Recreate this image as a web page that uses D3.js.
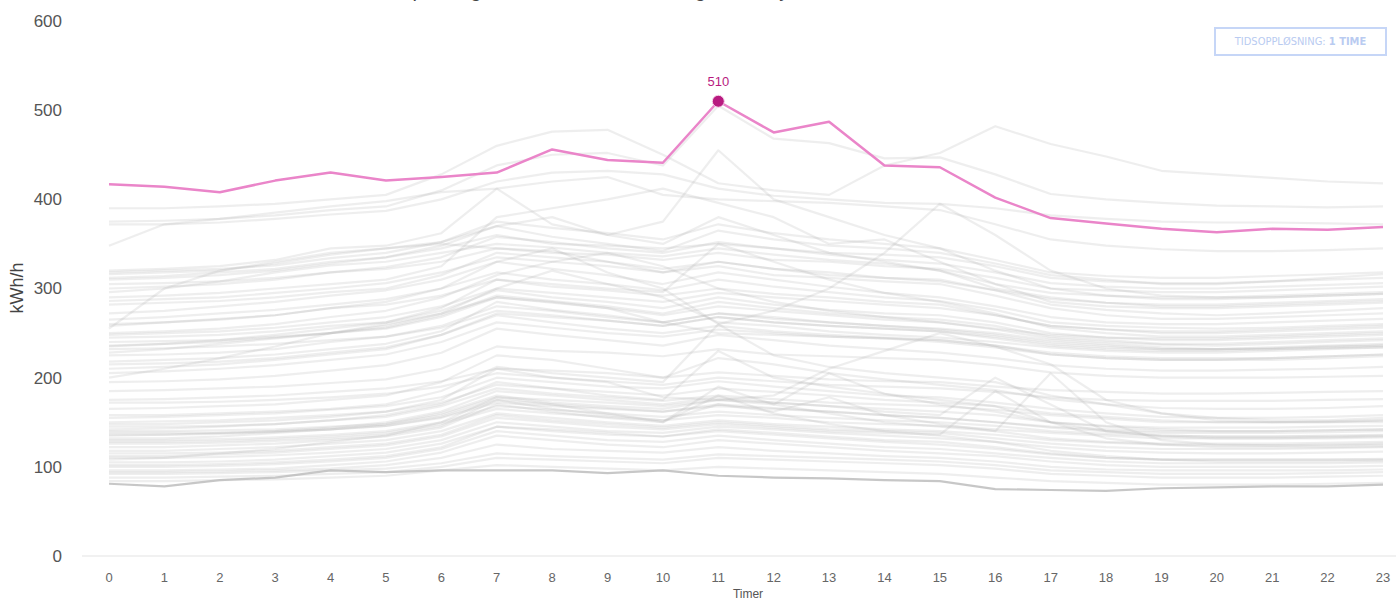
<!DOCTYPE html>
<html><head><meta charset="utf-8">
<script src="https://cdn.jsdelivr.net/npm/d3@7"></script>
<style>
html,body{margin:0;padding:0;background:#fff;}
svg{display:block;font-family:"Liberation Sans",Arial,sans-serif;}
</style></head>
<body>
<svg id="chart" width="1396" height="601"></svg>
<script>
const hours = [0,1,2,3,4,5,6,7,8,9,10,11,12,13,14,15,16,17,18,19,20,21,22,23];
const yTicks = [0,100,200,300,400,500,600];
const titleText = "Forbruk per døgn i hele tidsrommet – dag med høyest forbruk";
const yLabel = "kWh/h";
const xLabel = "Timer";
const buttonLabel = "TIDSOPPLØSNING: ";
const buttonValue = "1 TIME";

// highlighted day (maximum)
const maxDay = [417,414,408,421,430,421,425,430,456,444,441,510,475,487,438,436,402,379,373,367,363,367,366,369];
// lowest day
const minDay = [81,78,85,88,96,94,96,96,96,93,96,90,88,87,85,84,75,74,73,76,77,78,78,80];

// other days
const otherDays = [
[390,390,392,395,400,405,428,460,476,478,450,418,410,405,438,452,482,462,448,432,428,424,420,418],
[375,376,378,382,388,392,410,438,450,452,438,505,468,463,446,447,428,406,400,396,393,392,391,392],
[372,372,374,378,383,387,400,420,430,432,428,412,404,400,396,395,390,382,378,375,374,374,373,372],
[348,372,378,385,392,398,408,412,420,425,405,400,398,396,392,388,372,355,348,344,342,342,343,345],
[320,322,325,332,345,348,362,412,372,360,350,380,360,340,330,320,300,290,284,280,280,282,284,286],
[316,318,320,328,338,345,352,370,358,350,342,365,355,348,345,340,328,315,310,305,305,308,310,312],
[312,314,318,322,330,335,345,360,350,348,345,350,345,340,338,335,325,312,308,306,306,308,312,316],
[318,320,322,326,334,340,352,375,368,362,355,372,362,355,350,345,332,318,314,312,312,314,316,318],
[305,306,308,312,318,324,335,358,352,345,340,352,345,338,332,328,318,306,302,300,300,302,304,306],
[300,302,305,310,318,322,330,345,340,338,332,340,332,330,325,322,312,300,298,296,296,298,300,302],
[296,300,308,318,326,330,340,350,346,340,336,345,338,332,328,320,305,295,292,290,290,292,294,296],
[290,292,295,300,305,310,325,380,390,400,412,396,380,350,355,330,305,285,280,278,278,280,282,284],
[310,312,315,320,328,335,348,370,380,360,375,455,400,380,360,345,320,300,292,288,288,290,292,294],
[286,288,290,295,300,306,318,335,330,325,318,330,322,315,312,308,298,288,284,282,282,284,286,288],
[282,284,286,290,296,300,315,340,335,330,322,330,322,318,312,310,298,282,276,272,270,272,275,278],
[272,275,280,285,292,298,310,330,322,315,305,318,310,302,295,290,280,268,262,260,260,262,264,266],
[265,268,272,276,282,288,300,318,310,305,298,310,302,296,290,286,276,262,258,256,255,256,258,260],
[258,262,266,270,278,282,292,310,302,298,292,300,294,290,285,282,270,258,254,250,250,252,254,256],
[255,300,320,330,340,345,350,345,342,330,318,325,315,312,308,305,292,278,270,266,266,268,270,272],
[260,262,265,270,278,285,300,330,345,318,300,260,275,300,340,395,360,320,300,292,290,290,292,294],
[250,252,255,260,268,275,290,315,330,340,325,300,285,275,268,262,255,248,245,244,244,246,248,250],
[248,250,252,256,262,268,280,300,295,290,285,295,290,286,282,278,270,258,254,252,252,254,256,258],
[245,246,248,252,258,262,275,298,290,285,278,290,282,276,272,270,262,250,245,242,242,244,246,248],
[240,241,242,246,250,255,268,290,284,278,270,280,275,270,265,262,254,244,240,237,236,238,240,242],
[236,238,240,245,250,256,270,292,286,280,272,285,278,272,268,265,258,246,242,238,238,240,242,244],
[235,238,242,248,255,262,278,310,305,300,296,350,330,310,295,285,272,256,250,246,246,248,250,252],
[232,233,235,238,242,246,256,275,270,264,258,268,262,258,255,252,244,236,232,230,230,232,234,236],
[228,232,238,244,250,258,272,300,320,305,290,262,258,252,248,245,240,234,230,228,228,230,232,234],
[225,226,228,232,240,246,258,280,275,268,262,272,266,262,258,254,248,240,236,232,232,234,236,238],
[218,220,222,226,232,238,252,285,276,270,262,250,248,246,244,240,234,226,222,220,220,222,224,226],
[215,216,218,222,228,234,248,272,268,264,258,268,262,258,255,252,246,238,234,232,232,233,235,236],
[210,212,215,220,226,232,248,270,262,255,250,258,252,248,245,242,236,228,224,222,222,222,224,226],
[205,207,210,214,220,226,240,262,256,250,246,254,250,246,244,242,236,226,222,220,220,220,222,224],
[200,210,222,235,250,260,272,290,285,278,262,272,268,262,258,255,250,242,238,234,232,232,233,234],
[195,196,198,202,208,214,228,255,248,242,236,248,242,236,232,228,222,214,210,208,208,209,210,212],
[185,186,188,190,194,198,210,235,230,228,224,232,226,224,222,220,214,206,202,200,200,200,201,202],
[175,176,178,180,184,188,196,210,208,205,200,206,202,198,196,195,190,186,184,182,182,183,184,185],
[172,172,173,175,178,182,190,205,200,196,192,200,196,192,190,188,184,178,175,174,174,174,175,176],
[165,166,168,170,175,180,195,225,220,210,200,222,215,205,198,192,186,176,170,166,165,165,166,168],
[158,158,160,162,165,170,185,212,205,200,195,260,225,212,205,200,195,180,170,160,155,152,152,155],
[155,156,158,160,164,168,178,200,195,190,188,196,190,185,180,178,172,165,160,156,155,155,156,158],
[150,151,152,155,158,162,172,192,188,184,180,188,184,180,175,172,168,160,156,152,150,150,151,152],
[148,148,150,152,156,162,175,210,200,195,178,175,180,210,230,250,235,215,175,160,152,150,150,152],
[145,145,146,148,152,156,168,188,182,178,174,180,176,172,170,168,164,158,154,150,150,150,150,150],
[142,143,145,148,152,158,170,195,188,180,175,230,200,190,182,175,168,150,145,142,140,140,141,142],
[140,140,141,142,145,148,158,178,175,172,168,175,172,168,165,162,158,150,146,144,144,144,145,146],
[138,138,138,140,142,146,155,172,168,165,162,168,165,162,158,155,150,145,142,140,140,140,141,142],
[136,136,137,139,142,146,156,175,170,166,162,170,166,162,158,155,150,144,140,138,138,138,139,140],
[135,136,138,140,144,150,162,185,180,175,170,178,172,168,162,158,200,170,140,135,134,134,135,136],
[132,132,134,138,142,148,160,180,172,168,165,175,170,205,182,170,162,150,140,134,132,132,133,134],
[130,130,131,133,136,140,150,168,164,160,156,162,158,155,152,150,146,140,137,135,134,134,134,135],
[128,128,129,131,134,138,148,165,160,156,152,158,155,150,148,146,142,138,135,132,132,132,132,133],
[126,126,127,129,132,136,146,175,165,158,152,170,162,178,158,148,140,132,128,126,126,126,127,128],
[122,122,124,126,130,134,144,170,162,155,150,190,170,160,150,145,140,205,150,130,125,124,124,125],
[118,118,120,122,126,130,140,160,155,150,146,152,148,145,142,140,136,130,127,125,124,124,125,126],
[115,115,116,118,122,126,136,158,152,148,144,150,146,142,140,138,132,126,122,120,120,120,121,122],
[112,112,114,116,120,124,134,155,150,145,142,148,144,140,138,136,185,150,132,125,122,122,122,123],
[110,110,111,113,116,120,130,150,145,140,138,145,142,138,135,132,128,122,118,116,115,115,116,117],
[108,110,115,120,128,135,150,178,170,160,150,180,160,148,140,135,128,118,112,108,106,106,106,107],
[105,105,106,108,112,116,126,145,140,136,134,140,136,132,128,125,120,114,110,108,108,108,108,108],
[102,102,103,105,108,112,122,145,142,138,134,142,138,134,130,128,122,115,110,108,108,108,108,109],
[100,100,101,103,106,110,120,140,135,130,128,135,130,126,122,120,115,110,106,104,104,104,104,105],
[96,96,97,98,102,106,116,135,130,125,122,130,126,122,118,115,112,106,102,100,100,100,100,101],
[94,94,95,96,98,102,110,125,120,118,116,122,118,115,112,110,106,100,97,96,96,96,96,97],
[92,92,93,94,96,98,104,115,112,110,108,114,112,110,108,106,102,96,94,92,92,92,93,94],
[88,88,89,90,92,94,100,110,108,106,104,110,108,106,104,102,98,92,90,88,88,88,89,90],
[84,84,85,86,88,90,96,102,100,98,96,100,98,96,94,92,88,84,82,80,80,80,81,82]
];

const svg = d3.select("#chart");
const x = d3.scaleLinear().domain([0,23]).range([109,1383]);
const y = d3.scaleLinear().domain([0,600]).range([556,21]);

// title (mostly above the visible area)
svg.append("text").attr("x",338).attr("y",-3).attr("font-size",20).attr("fill","#444")
  .text(titleText);

// x axis baseline
svg.append("line").attr("x1",82).attr("x2",1396).attr("y1",y(0)).attr("y2",y(0))
  .attr("stroke","#e3e3e3").attr("stroke-width",1);

// y tick labels
svg.append("g").selectAll("text").data(yTicks).join("text")
  .attr("x",62).attr("y",d=>y(d)).attr("dy","0.35em").attr("text-anchor","end")
  .attr("font-size",17).attr("fill","#555").text(d=>d);

// y label
svg.append("text").attr("transform","translate(23,288) rotate(-90)")
  .attr("text-anchor","middle").attr("font-size",18).attr("fill","#444").text(yLabel);

// x tick labels
svg.append("g").selectAll("text").data(hours).join("text")
  .attr("x",d=>x(d)).attr("y",577).attr("dy","0.35em").attr("text-anchor","middle")
  .attr("font-size",13).attr("fill","#666").text(d=>d);
svg.append("text").attr("x",748).attr("y",594).attr("dy","0.35em").attr("text-anchor","middle")
  .attr("font-size",12).attr("fill","#555").text(xLabel);

const line = d3.line().x((d,i)=>x(hours[i])).y(d=>y(d));

svg.append("g").selectAll("path").data(otherDays).join("path")
  .attr("d",line).attr("fill","none").attr("stroke","#b0b0b0")
  .attr("stroke-opacity",0.22).attr("stroke-width",2.2).attr("stroke-linejoin","round");

svg.append("path").datum(minDay).attr("d",line).attr("fill","none")
  .attr("stroke","#bdbdbd").attr("stroke-opacity",0.85).attr("stroke-width",2.2);

svg.append("path").datum(maxDay).attr("d",line).attr("fill","none")
  .attr("stroke","#ea85c9").attr("stroke-width",2.5).attr("stroke-linejoin","round");

const peakIdx = maxDay.indexOf(d3.max(maxDay));
svg.append("circle").attr("cx",x(hours[peakIdx])).attr("cy",y(maxDay[peakIdx])).attr("r",6)
  .attr("fill","#b81a80").attr("stroke","#f7d4ea").attr("stroke-width",1);
svg.append("text").attr("x",x(hours[peakIdx])).attr("y",y(maxDay[peakIdx])-20).attr("dy","0.35em")
  .attr("text-anchor","middle").attr("font-size",13).attr("fill","#b81a80").text(maxDay[peakIdx]);

// resolution button
const bx = 1215, by = 28, bw = 171, bh = 27;
svg.append("rect").attr("x",bx).attr("y",by).attr("width",bw).attr("height",bh)
  .attr("fill","#fff").attr("stroke","#c6d6f7").attr("stroke-width",2);
const bt = svg.append("text").attr("x",bx+bw/2).attr("y",by+bh/2).attr("dy","0.35em")
  .attr("text-anchor","middle").attr("font-size",11).attr("fill","#b9cbf1")
  .attr("font-family","'Liberation Sans Narrow','DejaVu Sans Condensed',sans-serif");
bt.append("tspan").text(buttonLabel);
bt.append("tspan").attr("font-weight","bold").text(buttonValue);
</script>
</body></html>
